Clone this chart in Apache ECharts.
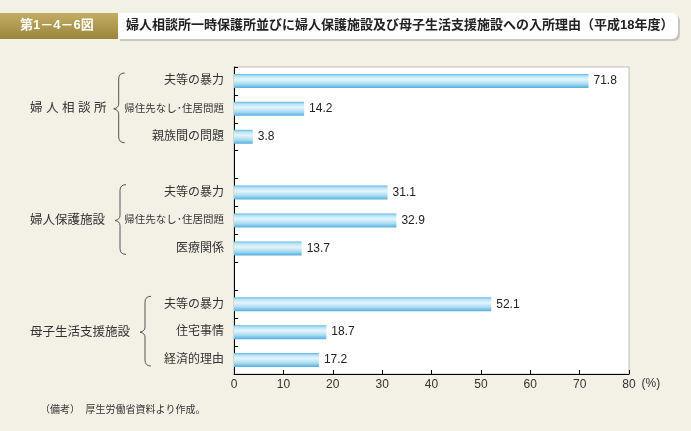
<!DOCTYPE html>
<html>
<head>
<meta charset="utf-8">
<script src="https://cdn.jsdelivr.net/npm/echarts@6/dist/echarts.min.js"></script>
<style>
html,body{margin:0;padding:0;background:#f3f0e6;}
#chart{width:691px;height:431px;}
</style>
</head>
<body>
<div id="chart"></div>
<script>
// ---- data ----
const figureNo = '第1－4－6図';
const chartTitle = '婦人相談所一時保護所並びに婦人保護施設及び母子生活支援施設への入所理由（平成18年度）';
const note = '（備考）  厚生労働省資料より作成。';
const groupNames = ['婦 人 相 談 所', '婦人保護施設', '母子生活支援施設'];
const reasons1 = ['夫等の暴力', '帰住先なし･住居問題', '親族間の問題'];
const values1 = [71.8, 14.2, 3.8];
const reasons2 = ['夫等の暴力', '帰住先なし･住居問題', '医療関係'];
const values2 = [31.1, 32.9, 13.7];
const reasons3 = ['夫等の暴力', '住宅事情', '経済的理由'];
const values3 = [52.1, 18.7, 17.2];
const xTicks = [0, 10, 20, 30, 40, 50, 60, 70, 80];
const unit = '(%)';

// ---- build category rows (with blank spacer rows between groups) ----
const groupReasons = [reasons1, reasons2, reasons3];
const groupValues = [values1, values2, values3];
const rowLabels = [];
const rowValues = [];
const groupRows = [];
groupReasons.forEach(function (rs, g) {
  if (g > 0) { rowLabels.push(''); rowValues.push(null); }
  const start = rowLabels.length;
  rs.forEach(function (r, i) { rowLabels.push(r); rowValues.push(groupValues[g][i]); });
  groupRows.push([start, rowLabels.length - 1]);
});
const rowKeys = rowLabels.map(function (_, i) { return 'r' + i; });

const FONT = "'Liberation Sans', 'Noto Sans CJK JP', sans-serif";
const chart = echarts.init(document.getElementById('chart'));

const barGradient = new echarts.graphic.LinearGradient(0, 0, 0, 1, [
  { offset: 0, color: '#5cb9e4' },
  { offset: 0.15, color: '#b9e3f6' },
  { offset: 0.4, color: '#e4f5fc' },
  { offset: 0.72, color: '#a8dbf2' },
  { offset: 1, color: '#52b0de' }
]);

chart.setOption({
  backgroundColor: '#f3f0e6',
  textStyle: { fontFamily: FONT },
  title: [
    { text: figureNo, left: 20, top: 19, padding: 0,
      textStyle: { color: '#fff', fontSize: 13, fontWeight: 'bold', fontFamily: FONT } },
    { text: chartTitle, left: 126, top: 19, padding: 0,
      textStyle: { color: '#222', fontSize: 13, fontWeight: 'bold', fontFamily: FONT } },
    { text: note, left: 40, top: 405, padding: 0,
      textStyle: { color: '#333', fontSize: 10, fontWeight: 'normal', fontFamily: FONT } }
  ],
  grid: { left: 234, right: 62, top: 67, bottom: 57, show: true,
    backgroundColor: '#ffffff', borderColor: '#bdbdbd', borderWidth: 1 },
  xAxis: {
    type: 'value', min: xTicks[0], max: xTicks[xTicks.length - 1], interval: xTicks[1] - xTicks[0],
    name: unit, nameLocation: 'end', nameGap: 11,
    nameTextStyle: { color: '#333', fontSize: 12, verticalAlign: 'top', padding: [4, 0, 0, 0], fontFamily: FONT },
    axisLine: { show: true, lineStyle: { color: '#000', width: 1 } },
    axisTick: { show: true, inside: true, length: 4, lineStyle: { color: '#000' } },
    axisLabel: { color: '#333', fontSize: 12, margin: 5, fontFamily: FONT },
    splitLine: { show: false }
  },
  yAxis: {
    type: 'category', inverse: true, data: rowKeys,
    axisLine: { show: true, lineStyle: { color: '#000', width: 1 } },
    axisTick: { show: true, inside: true, length: 4, lineStyle: { color: '#000' } },
    axisLabel: {
      margin: 10, color: '#333', fontSize: 12, fontFamily: FONT,
      formatter: function (v, i) {
        const t = rowLabels[i];
        return t.length > 6 ? '{s|' + t + '}' : t;
      },
      rich: { s: { fontSize: 10.5, color: '#333', fontFamily: FONT } }
    }
  },
  series: [{
    type: 'bar', data: rowValues, barWidth: 14,
    itemStyle: { color: barGradient },
    label: { show: true, position: 'right', distance: 5, color: '#222', fontSize: 12, fontFamily: FONT,
      formatter: function (p) { return p.value.toFixed(1); } },
    silent: true
  }]
});

// ---- header boxes, group labels and braces ----
function textWidth(t, size) {
  const c = document.createElement('canvas').getContext('2d');
  c.font = size + "px 'Noto Sans CJK JP'";
  return c.measureText(t).width;
}
const gfx = [
  { type: 'rect', z: -1, shape: { x: 120, y: 15, width: 560, height: 26, r: [0, 6, 6, 0] },
    style: { fill: '#c9c6be' } },
  { type: 'rect', z: 0, shape: { x: 118, y: 13, width: 560, height: 26, r: [0, 6, 6, 0] },
    style: { fill: '#ffffff' } },
  { type: 'rect', z: 0, shape: { x: 0, y: 13, width: 118, height: 26 },
    style: { fill: new echarts.graphic.LinearGradient(0, 0, 0, 1, [
      { offset: 0, color: '#c3ad63' }, { offset: 1, color: '#9b843c' }]) } }
];
const braceStyle = { fill: null, stroke: '#555', lineWidth: 1 };
const halfBand = (chart.convertToPixel({ yAxisIndex: 0 }, 1) - chart.convertToPixel({ yAxisIndex: 0 }, 0)) / 2;
groupRows.forEach(function (rg, g) {
  const c0 = chart.convertToPixel({ yAxisIndex: 0 }, rg[0]);
  const c1 = chart.convertToPixel({ yAxisIndex: 0 }, rg[1]);
  const yTop = c0 - halfBand + 6;
  const yBot = c1 + halfBand - 8;
  const ym = (c0 + c1) / 2;
  const w = textWidth(groupNames[g], 12.5);
  const tip = 30 + w + 10;
  const x0 = tip + 5;
  gfx.push({ type: 'text', z: 5, x: 30, y: ym,
    style: { text: groupNames[g], fill: '#333', fontSize: 12.5, fontFamily: FONT, verticalAlign: 'middle', align: 'left' } });
  gfx.push({ type: 'bezierCurve', z: 5, shape: { x1: x0 + 6, y1: yTop, cpx1: x0, cpy1: yTop, x2: x0, y2: yTop + 6 }, style: braceStyle });
  gfx.push({ type: 'line', z: 5, shape: { x1: x0, y1: yTop + 6, x2: x0, y2: ym - 5 }, style: braceStyle });
  gfx.push({ type: 'bezierCurve', z: 5, shape: { x1: x0, y1: ym - 5, cpx1: x0, cpy1: ym - 1, x2: tip, y2: ym }, style: braceStyle });
  gfx.push({ type: 'bezierCurve', z: 5, shape: { x1: tip, y1: ym, cpx1: x0, cpy1: ym + 1, x2: x0, y2: ym + 5 }, style: braceStyle });
  gfx.push({ type: 'line', z: 5, shape: { x1: x0, y1: ym + 5, x2: x0, y2: yBot - 6 }, style: braceStyle });
  gfx.push({ type: 'bezierCurve', z: 5, shape: { x1: x0, y1: yBot - 6, cpx1: x0, cpy1: yBot, x2: x0 + 6, y2: yBot }, style: braceStyle });
});
chart.setOption({ graphic: gfx });
</script>
</body>
</html>
